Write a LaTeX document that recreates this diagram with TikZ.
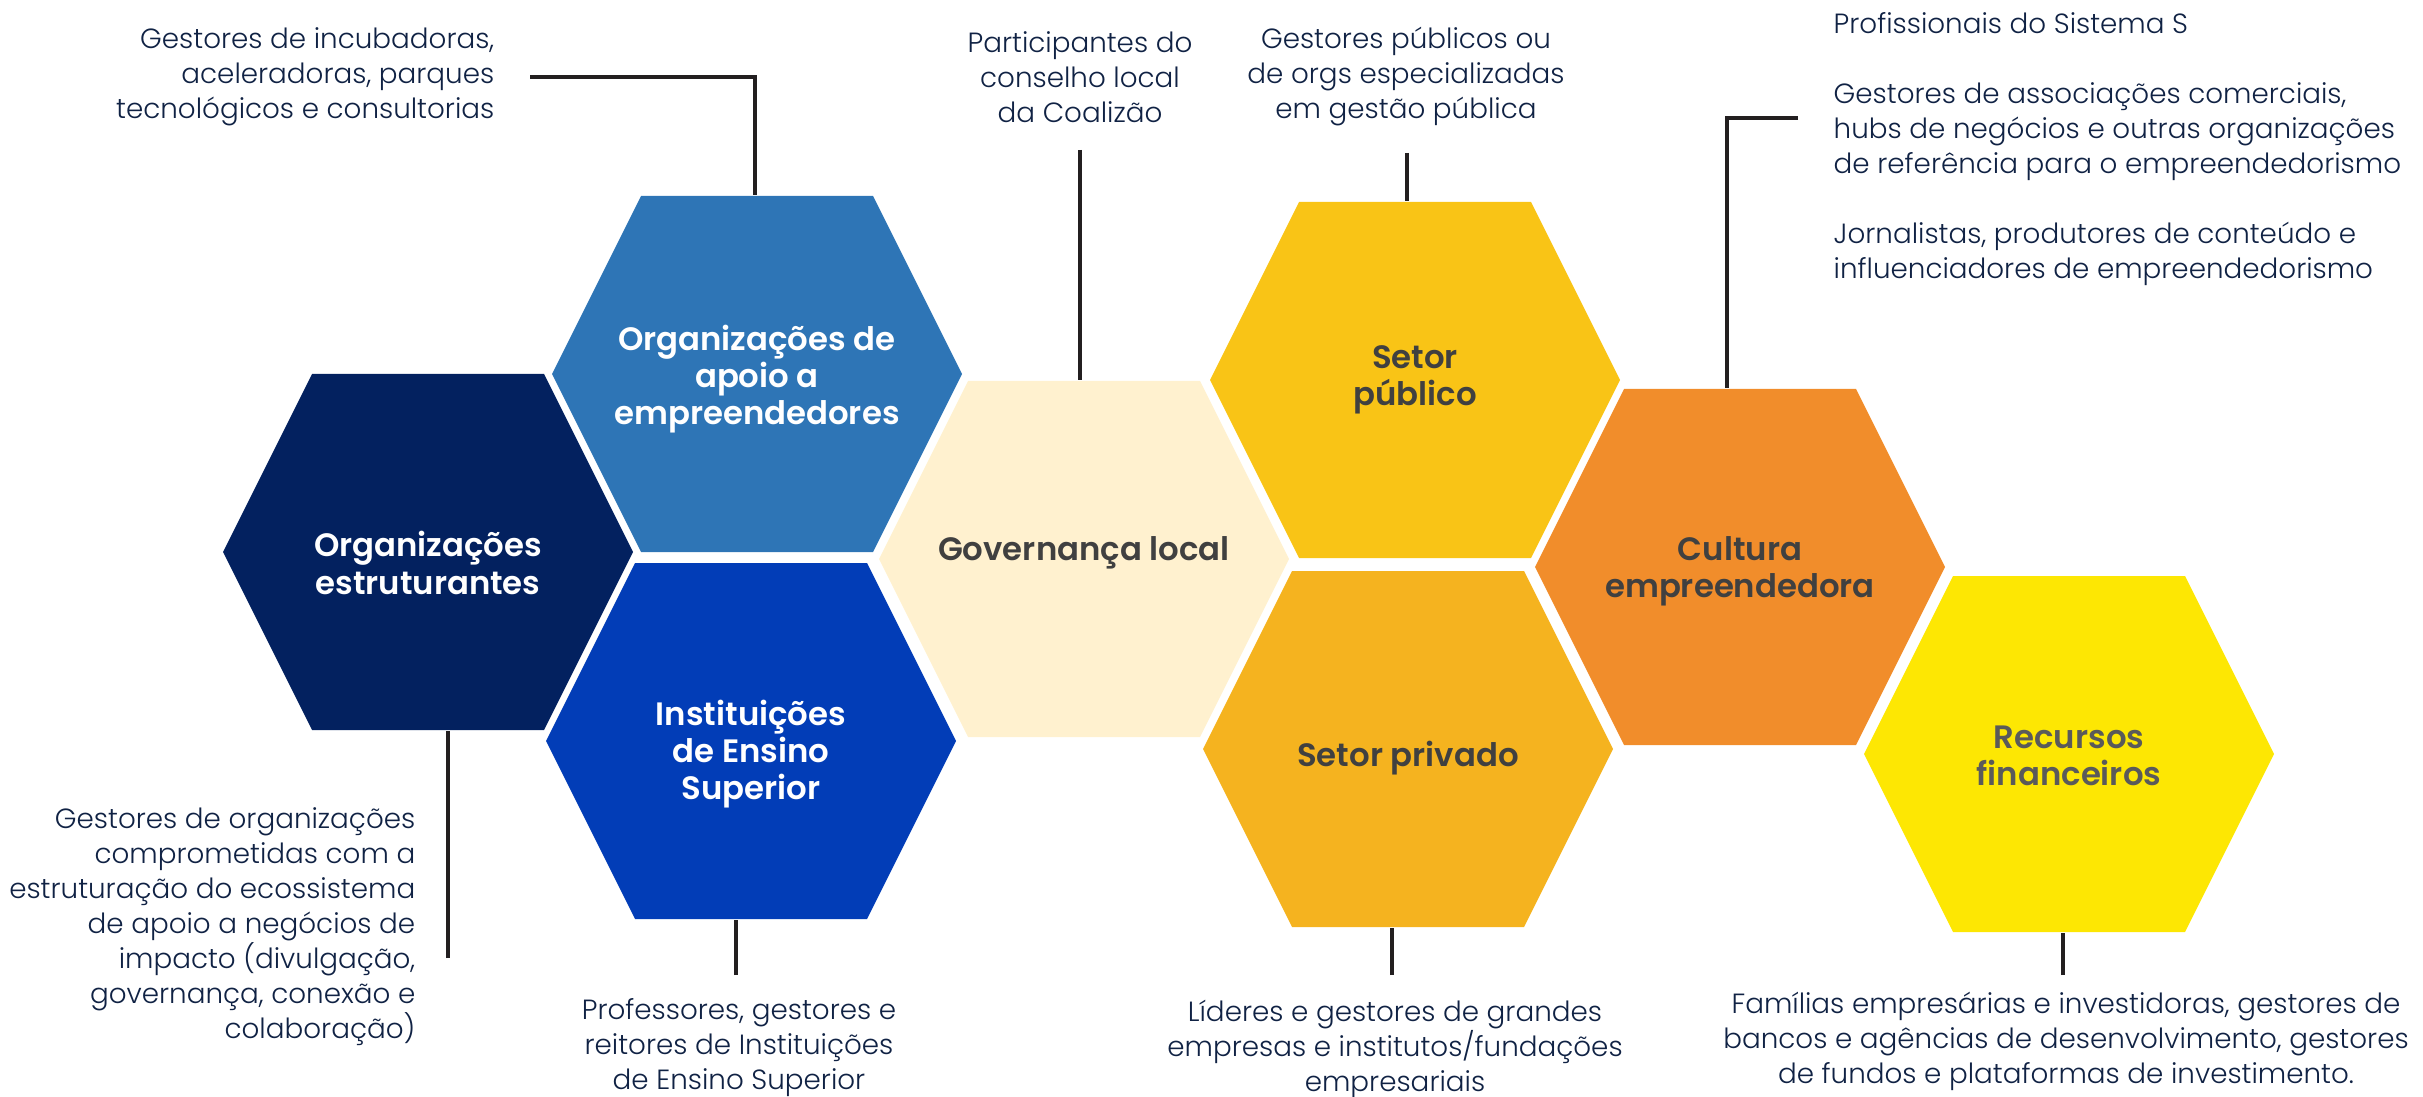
\documentclass[tikz,border=0pt]{standalone}
\usepackage{fontspec}
\setmainfont{Poppins}
\IfFontExistsTF{Poppins Light}{\newfontfamily\descfont{Poppins Light}}{\newfontfamily\descfont{Poppins}}
\IfFontExistsTF{Poppins SemiBold}{\newfontfamily\hexfont{Poppins SemiBold}}{\newcommand\hexfont{\bfseries}}

\definecolor{estnavy}{HTML}{03215F}
\definecolor{apoioblue}{HTML}{2E75B6}
\definecolor{iesblue}{HTML}{023DB7}
\definecolor{govcream}{HTML}{FFF1CF}
\definecolor{pubgold}{HTML}{F9C416}
\definecolor{privgold}{HTML}{F5B31F}
\definecolor{cultorange}{HTML}{F18D2B}
\definecolor{recyellow}{HTML}{FDE703}
\definecolor{labelgray}{HTML}{404040}
\definecolor{recgray}{HTML}{5A5A5A}
\definecolor{descnavy}{HTML}{102244}
\definecolor{linkgray}{HTML}{231F20}

\tikzset{
    hexbox/.style={minimum width=4.1cm, minimum height=3.56cm, inner sep=0pt},
    hexlabel/.style={inner sep=0pt, align=center, font=\hexfont\fontsize{9.2}{10.6}\selectfont},
    desc/.style={inner sep=0pt, text=descnavy, font=\descfont\fontsize{7.9}{9.96}\selectfont},
    link/.style={draw=linkgray, line width=1.2pt}
}

\begin{document}
\begin{tikzpicture}[x=0.01cm, y=-0.01cm]
    \useasboundingbox (0,0) rectangle (2423,1097);
    \def \hexw {205}
    \def \hexs {89}
    \def \hexe {232}
    \def \hexh {178}
    % honeycomb
    \foreach \nm/\cx/\cy/\dy/\col/\tcol/\txt in {
        orgest/428/552/11/estnavy/white/{Organizações\\estruturantes},
        orgapoio/757/374/5/apoioblue/white/{Organizações de\\apoio a\\empreendedores},
        ies/751/741/13/iesblue/white/{Instituições\\de Ensino\\Superior},
        gov/1084/559/-6/govcream/labelgray/{Governança local},
        setpub/1415/380/0/pubgold/labelgray/{Setor\\público},
        setpriv/1408/749/9/privgold/labelgray/{Setor privado},
        cultura/1740/567/4/cultorange/labelgray/{Cultura\\empreendedora},
        recursos/2069/754/2/recyellow/recgray/{Recursos\\financeiros}}{
        \fill[\col] (\cx,\cy) ++(-\hexw,0) -- ++(\hexs,-\hexh) -- ++(\hexe,0) -- ++(\hexs,\hexh)
            -- ++(-\hexs,\hexh) -- ++(-\hexe,0) -- cycle;
        \node[hexbox] (\nm) at (\cx,\cy) {};
        \node[hexlabel, text=\tcol] (\nm-t) at (\cx,\cy+\dy) {\txt};
    }

    % top
    \node[desc, anchor=east, align=right] (dapoio) at (495,77)
        {Gestores de incubadoras,\\aceleradoras, parques\\tecnológicos e consultorias};
    \coordinate (kapoio) at (530,77);
    \draw[link] (kapoio) -| ([xshift=-0.02cm]orgapoio.north);

    \node[desc, align=center] (dgov) at (1080,77)
        {Participantes do\\conselho local\\da Coalizão};
    \coordinate (kgov) at (1080,150);
    \draw[link] (kgov) -- (kgov |- gov.north);

    \node[desc, align=center] (dpub) at (1406,77)
        {Gestores públicos ou\\de orgs especializadas\\em gestão pública};
    \coordinate (kpub) at (1407,153);
    \draw[link] (kpub) -- (kpub |- setpub.north);

    \node[desc, anchor=west, align=left] (dcult) at (1833,149)
        {Profissionais do Sistema S\\[9.96pt]
         Gestores de associações comerciais,\\hubs de negócios e outras organizações\\de referência para o empreendedorismo\\[9.96pt]
         Jornalistas, produtores de conteúdo e\\influenciadores de empreendedorismo};
    \coordinate (kcult) at (1798,118);
    \draw[link] (kcult) -| ([xshift=-0.13cm]cultura.north);

    % bottom
    \node[desc, anchor=east, align=right] (dest) at (416,927)
        {Gestores de organizações\\comprometidas com a\\estruturação do ecossistema\\de apoio a negócios de\\impacto (divulgação,\\governança, conexão e\\colaboração)};
    \coordinate (kest) at (448,958);
    \draw[link] (kest) -- (kest |- orgest.south);

    \node[desc, align=center] (dies) at (739,1048)
        {Professores, gestores e\\reitores de Instituições\\de Ensino Superior};
    \coordinate (kies) at (736,975);
    \draw[link] (kies) -- (kies |- ies.south);

    \node[desc, align=center] (dpriv) at (1395,1049)
        {Líderes e gestores de grandes\\empresas e institutos/fundações\\empresariais};
    \coordinate (kpriv) at (1392,975);
    \draw[link] (kpriv) -- (kpriv |- setpriv.south);

    \node[desc, align=center] (drec) at (2066,1041)
        {Famílias empresárias e investidoras, gestores de\\bancos e agências de desenvolvimento, gestores\\de fundos e plataformas de investimento.};
    \coordinate (krec) at (2063,975);
    \draw[link] (krec) -- (krec |- recursos.south);
\end{tikzpicture}
\end{document}
